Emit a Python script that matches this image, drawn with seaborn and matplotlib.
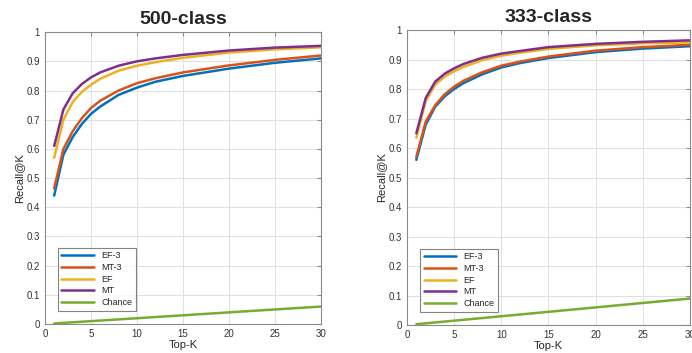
#!/usr/bin/env python3
"""Recall@K curves for 500-class and 333-class settings."""

import pandas as pd
import matplotlib
matplotlib.use("Agg")
import matplotlib.pyplot as plt
import seaborn as sns

# === DATA ===

TOP_K = [1, 2, 3, 4, 5, 6, 8, 10, 12, 15, 20, 25, 30]
METHODS = ["EF-3", "MT-3", "EF", "MT", "Chance"]

# 500-class
EF3_500 = [0.44, 0.58, 0.64, 0.685, 0.72, 0.745, 0.785, 0.81, 0.83, 0.85, 0.875, 0.895, 0.91]
MT3_500 = [0.465, 0.60, 0.66, 0.705, 0.74, 0.765, 0.80, 0.825, 0.842, 0.862, 0.886, 0.905, 0.92]
EF_500 = [0.57, 0.70, 0.76, 0.795, 0.82, 0.84, 0.868, 0.885, 0.897, 0.912, 0.93, 0.941, 0.948]
MT_500 = [0.61, 0.735, 0.79, 0.822, 0.845, 0.862, 0.885, 0.90, 0.91, 0.922, 0.937, 0.947, 0.953]
CHANCE_500 = [0.002, 0.004, 0.006, 0.008, 0.01, 0.012, 0.016, 0.02, 0.024, 0.03, 0.04, 0.05, 0.06]

# 333-class
EF3_333 = [0.56, 0.68, 0.74, 0.775, 0.80, 0.82, 0.85, 0.873, 0.888, 0.905, 0.925, 0.937, 0.945]
MT3_333 = [0.57, 0.69, 0.745, 0.782, 0.808, 0.828, 0.857, 0.879, 0.893, 0.91, 0.93, 0.942, 0.95]
EF_333 = [0.635, 0.76, 0.815, 0.842, 0.86, 0.875, 0.898, 0.913, 0.923, 0.936, 0.948, 0.955, 0.958]
MT_333 = [0.65, 0.77, 0.825, 0.852, 0.87, 0.885, 0.906, 0.92, 0.929, 0.942, 0.953, 0.96, 0.965]
CHANCE_333 = [0.003, 0.006, 0.009, 0.012, 0.015, 0.018, 0.024, 0.03, 0.036, 0.045, 0.06, 0.075, 0.09]

COLORS = ["#0072BD", "#D95319", "#EDB120", "#7E2F8E", "#77AC30"]

sns.set_theme(style="whitegrid")
plt.rcParams["font.family"] = ["Liberation Sans", "DejaVu Sans"]


def to_long(series):
    rows = []
    for name, values in zip(METHODS, series):
        for k, v in zip(TOP_K, values):
            rows.append({"Top-K": k, "Recall@K": v, "Method": name})
    return pd.DataFrame(rows)


def draw(ax, df, title):
    sns.lineplot(data=df, x="Top-K", y="Recall@K", hue="Method",
                 hue_order=METHODS, palette=COLORS, linewidth=1.8, ax=ax)
    ax.set_xlim(0, 30)
    ax.set_ylim(0, 1)
    ax.set_xticks(range(0, 31, 5))
    ax.set_yticks([i / 10 for i in range(11)])
    ax.set_yticklabels(["0"] + [f"{i / 10:.1f}" for i in range(1, 10)] + ["1"])
    ax.set_facecolor("white")
    ax.grid(True, color="#e0e0e0", linewidth=0.7)
    for spine in ax.spines.values():
        spine.set_color("#8a8a8a")
        spine.set_linewidth(0.8)
    ax.tick_params(axis="both", direction="in", length=3, width=0.8,
                   labelsize=7, color="#8a8a8a", labelcolor="#333333",
                   top=True, right=True, labeltop=False, labelright=False)
    ax.set_xlabel("Top-K", fontsize=8, labelpad=1)
    ax.set_ylabel("Recall@K", fontsize=8, labelpad=2)
    ax.set_title(title, fontsize=14, fontweight="bold", pad=6)
    leg = ax.legend(loc="lower left", fontsize=6.5, frameon=True,
                    fancybox=False, edgecolor="#666666",
                    handlelength=3.6, borderpad=0.4, labelspacing=0.3,
                    bbox_to_anchor=(0.03, 0.03))
    leg.get_frame().set_linewidth(0.8)


fig = plt.figure(figsize=(6.92, 3.53), dpi=100)
ax1 = fig.add_axes([0.065, 0.082, 0.399, 0.827])
ax2 = fig.add_axes([0.588, 0.079, 0.409, 0.836])

draw(ax1, to_long([EF3_500, MT3_500, EF_500, MT_500, CHANCE_500]), "500-class")
draw(ax2, to_long([EF3_333, MT3_333, EF_333, MT_333, CHANCE_333]), "333-class")

fig.savefig("out.png", dpi=100)
